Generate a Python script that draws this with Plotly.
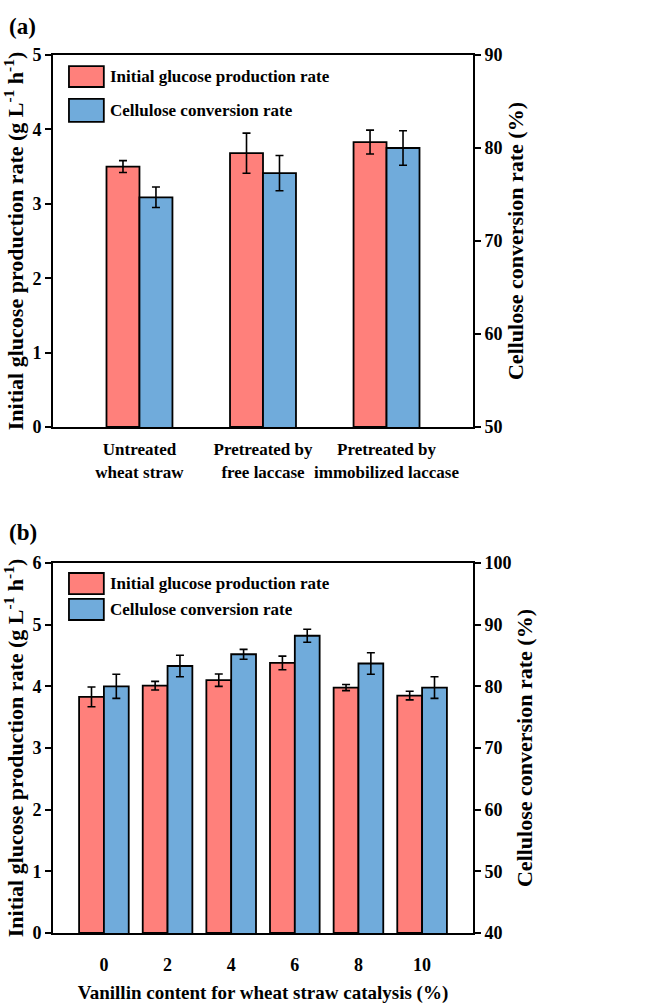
import plotly.graph_objects as go

# ---------------- data ----------------
series_names = ["Initial glucose production rate", "Cellulose conversion rate"]

cats_a = ["Untreated<br>wheat straw", "Pretreated by<br>free laccase",
          "Pretreated by<br>immobilized laccase"]
glucose_a = [3.50, 3.68, 3.83]
glucose_a_err = [0.08, 0.27, 0.16]
conv_a = [74.7, 77.3, 80.0]
conv_a_err = [1.1, 1.9, 1.85]

cats_b = ["0", "2", "4", "6", "8", "10"]
glucose_b = [3.83, 4.01, 4.10, 4.38, 3.98, 3.85]
glucose_b_err = [0.16, 0.07, 0.10, 0.11, 0.05, 0.07]
conv_b = [80.0, 83.3, 85.2, 88.2, 83.7, 79.8]
conv_b_err = [1.95, 1.75, 0.8, 1.05, 1.75, 1.75]

y_left_title = "Initial glucose production rate (g L<sup>-1</sup> h<sup>-1</sup>)"
y_right_title = "Cellulose conversion rate (%)"
x_b_title = "Vanillin content for wheat straw catalysis (%)"

# ---------------- style ----------------
RED = "#FF807B"
BLUE = "#70ABDB"
FONT = "Liberation Serif"
TICKF = dict(family=FONT, size=18, color="black", weight="bold")
XTICKF = dict(family=FONT, size=17, color="black", weight="bold")
TITLEF = dict(family=FONT, size=22, color="black", weight="bold")

def err(vals):
    return dict(type="data", array=vals, visible=True, color="black",
                thickness=1.6, width=4)

fig = go.Figure()

wa = 0.267
fig.add_trace(go.Bar(x=cats_a, y=glucose_a, error_y=err(glucose_a_err),
                     marker=dict(color=RED, line=dict(color="black", width=1.8)),
                     width=wa, offset=-wa, xaxis="x", yaxis="y", showlegend=False))
fig.add_trace(go.Bar(x=cats_a, y=conv_a, error_y=err(conv_a_err),
                     marker=dict(color=BLUE, line=dict(color="black", width=1.8)),
                     width=wa, offset=0, xaxis="x", yaxis="y2", showlegend=False))

wb = 0.39
fig.add_trace(go.Bar(x=cats_b, y=glucose_b, error_y=err(glucose_b_err),
                     marker=dict(color=RED, line=dict(color="black", width=1.8)),
                     width=wb, offset=-wb, xaxis="x2", yaxis="y3", showlegend=False))
fig.add_trace(go.Bar(x=cats_b, y=conv_b, error_y=err(conv_b_err),
                     marker=dict(color=BLUE, line=dict(color="black", width=1.8)),
                     width=wb, offset=0, xaxis="x2", yaxis="y4", showlegend=False))

axline = dict(showline=True, linecolor="black", linewidth=2, showgrid=False,
              zeroline=False, automargin=False)
yt = dict(ticks="outside", ticklen=6, tickwidth=2, tickcolor="black",
          tickfont=TICKF)

dom_a = [0.5763, 1.0]
dom_b = [0.0, 0.4214]

fig.update_layout(
    width=664, height=1004,
    margin=dict(l=53, r=191, t=55, b=71),
    paper_bgcolor="white", plot_bgcolor="white",
    barmode="overlay",
    font=dict(family=FONT, color="black", weight="bold"),
    xaxis=dict(domain=[0, 1], anchor="y", type="category", range=[-0.7, 2.7],
               mirror=True, ticks="", tickfont=XTICKF, tickangle=0,
               ticklabelstandoff=6, **axline),
    yaxis=dict(domain=dom_a, anchor="x", range=[0, 5], dtick=1,
               title=dict(text=y_left_title, font=TITLEF, standoff=6),
               **yt, **axline),
    yaxis2=dict(overlaying="y", side="right", anchor="x", range=[50, 90], dtick=10,
                title=dict(text=y_right_title, font=TITLEF, standoff=6),
                **yt, **axline),
    xaxis2=dict(domain=[0, 1], anchor="y3", type="category", range=[-0.8, 5.8],
                mirror=True, ticks="", tickfont=TICKF, tickangle=0,
                ticklabelstandoff=14,
                title=dict(text=x_b_title,
                           font=dict(family=FONT, size=19, color="black", weight="bold"),
                           standoff=16),
                **axline),
    yaxis3=dict(domain=dom_b, anchor="x2", range=[0, 6], dtick=1,
                title=dict(text=y_left_title, font=TITLEF, standoff=6),
                **yt, **axline),
    yaxis4=dict(overlaying="y3", side="right", anchor="x2", range=[40, 100], dtick=10,
                title=dict(text=y_right_title, font=TITLEF, standoff=6),
                **yt, **axline),
)

# manual legends (large swatches)
legend_specs = [
    ("x", "y", [(0.970, 0.914, 0.941), (0.882, 0.820, 0.851)]),
    ("x2", "y3", [(0.973, 0.916, 0.945), (0.903, 0.846, 0.874)]),
]
for xr, yr, rows in legend_specs:
    for (y1, y0, yc), col, name in zip(rows, [RED, BLUE], series_names):
        fig.add_shape(type="rect", xref=f"{xr} domain", yref=f"{yr} domain",
                      x0=0.038, x1=0.121, y0=y0, y1=y1,
                      fillcolor=col, line=dict(color="black", width=1.8),
                      layer="above")
        fig.add_annotation(xref=f"{xr} domain", yref=f"{yr} domain",
                           x=0.131, y=yc, xanchor="left", yanchor="middle",
                           text=f"<b>{name}</b>", showarrow=False,
                           font=dict(family=FONT, size=17, color="black"))

# panel labels
for lab, yp in [("(a)", 1.0319), ("(b)", 0.4567)]:
    fig.add_annotation(xref="paper", yref="paper", x=-0.1095, y=yp,
                       xanchor="left", yanchor="middle", showarrow=False,
                       text=f"<b>{lab}</b>",
                       font=dict(family=FONT, size=23, color="black"))

fig.write_html("out.html")
